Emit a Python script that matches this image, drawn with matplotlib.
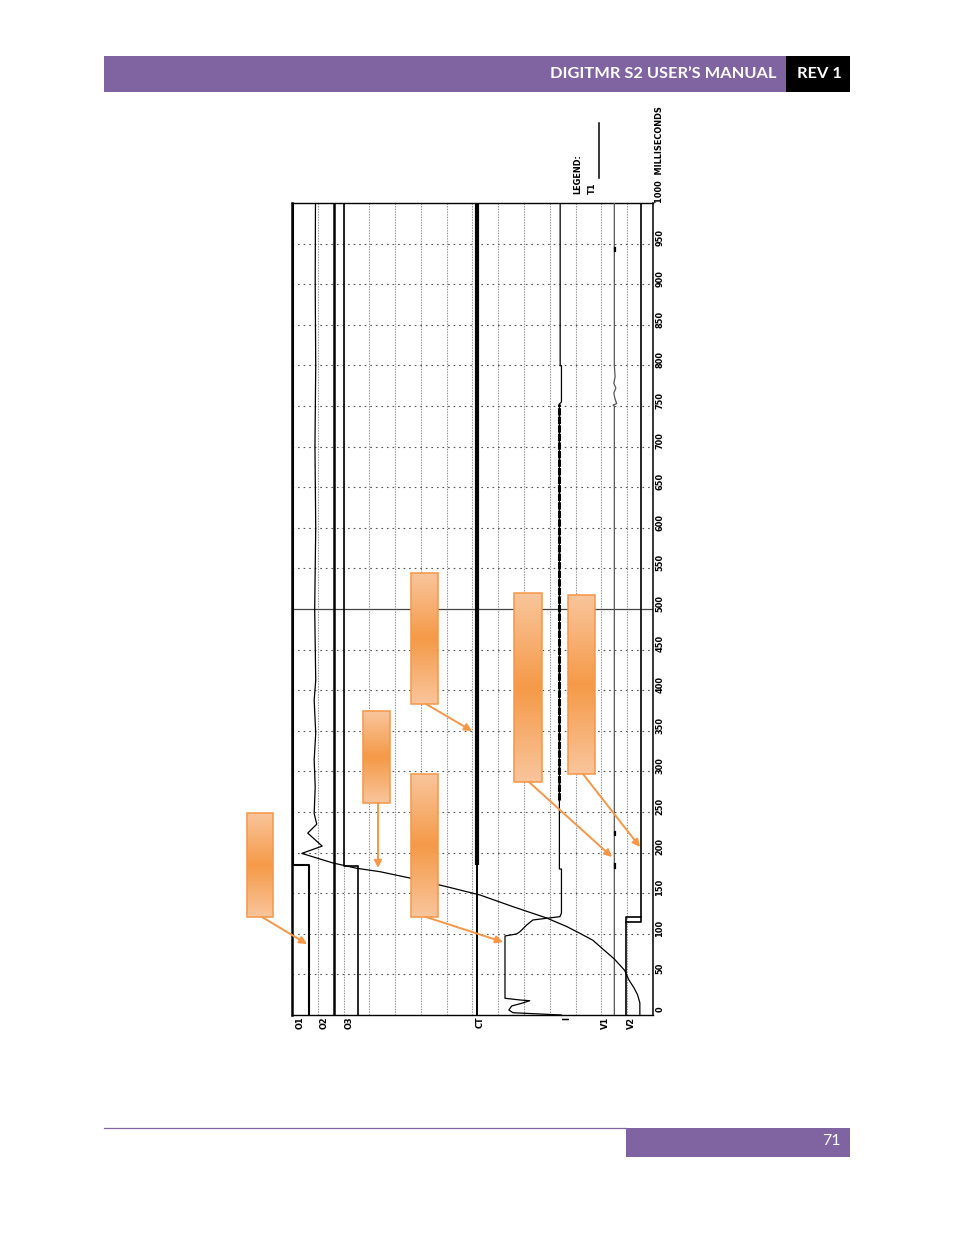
import numpy as np
import matplotlib
matplotlib.use("Agg")
import matplotlib.pyplot as plt
from matplotlib.colors import LinearSegmentedColormap
from matplotlib.patches import Rectangle
from matplotlib import font_manager as fm
import matplotlib.transforms as mtransforms

# ---------------- data ----------------
time_ticks = list(range(0, 1001, 50))
time_tick_labels = [str(t) for t in time_ticks]
time_axis_title = "MILLISECONDS"
grid_x = list(range(1, 14))
grid_t = [t for t in range(50, 1000, 50) if t != 500]
marker_t = 500

channel_names = ["O1", "O2", "O3", "CT", "I", "V1", "V2"]
channel_label_x = [0.31, 1.24, 2.21, 7.29, 10.66, 12.17, 13.18]

# contact channels (position in grid units vs time in ms)
o1_x = [0.66, 0.66, 0.04, 0.04]
o1_t = [0, 184.7, 184.7, 1000]
o2_x = [1.61, 1.61]
o2_t = [0, 1000]
o3_x = [2.56, 2.56, 2.03, 2.03]
o3_t = [0, 183.0, 183.0, 1000]

# close coil
ct_x = 7.19
ct_idle_t = [0, 184.7]
ct_energized_t = [184.7, 1000]

# current
i_x = [10.45, 8.57, 8.41, 8.52, 8.95, 9.22, 8.84, 8.26, 8.26, 8.71, 8.84, 9.10,
       9.34, 9.87, 10.39, 10.45, 10.45, 10.37, 10.37, 10.45, 10.45, 10.40, 10.40]
i_t = [0, 2.8, 6.2, 11.1, 14.8, 17.6, 18.5, 20.6, 97.3, 99.8, 102.6, 110.8,
       117.0, 119.1, 121.1, 125.6, 179.8, 179.8, 752.5, 755.0, 799.6, 799.6, 1000]
i_noise_t = [265, 752]

# voltages
v1_x = [12.50, 12.50, 12.45, 12.59, 12.52, 12.48, 12.56, 12.48, 12.53, 12.50, 12.50]
v1_t = [0, 750, 751, 753, 759.5, 766, 772, 778, 786, 800, 1000]
v1_mark_t = [183.5, 223.8, 943]
v2_x = [12.97, 12.97, 13.55, 13.55]
v2_t = [0, 121.0, 121.0, 1000]
v2_step_x = [12.97, 13.55, 13.55]
v2_step_t = [115.0, 115.0, 121.0]

# travel T1
t1_x = [13.49, 13.49, 13.40, 13.27, 13.05, 12.90, 12.50, 12.10, 11.67, 11.20, 10.65,
        9.87, 8.57, 7.29, 6.00, 4.57, 3.41, 2.51, 1.59, 0.38, 1.17, 0.61, 0.96,
        0.86, 0.90, 0.86, 0.92, 0.86, 0.92, 0.88, 0.92, 0.89, 0.92, 0.90, 0.91]
t1_t = [0, 15, 25, 33, 44, 55, 69, 80, 92, 100, 109,
        119.5, 133.4, 147.8, 158, 168.7, 176.5, 180.7, 187.2, 199, 208, 224, 235,
        248, 281, 314, 347, 388, 412, 500, 600, 700, 800, 900, 1000]

legend_label = "T1"

# ---------------- font choice for the plotter text ----------------
def plotter_font():
    fonts = fm.fontManager.ttflist
    for f in fonts:
        if f.name == "Liberation Sans Narrow" and "bold" in f.fname.lower() \
                and "italic" not in f.fname.lower():
            return fm.FontProperties(fname=f.fname), 7.4
    cands = []
    for f in fonts:
        st = str(f.stretch).lower()
        nm = f.fname.lower()
        if ("condensed" in st or "condensed" in nm or "narrow" in nm) and "cjk" not in nm \
                and "italic" not in nm and "oblique" not in nm:
            cands.append(f)
    for f in cands:
        nm = f.fname.lower()
        if "bold" in nm and "semibold" not in nm and "extrabold" not in nm:
            return fm.FontProperties(fname=f.fname), 6.6
    for f in cands:
        if "bold" not in f.fname.lower():
            return fm.FontProperties(fname=f.fname), 6.9
    return fm.FontProperties(family="DejaVu Sans"), 6.2

PFONT, PSIZE = plotter_font()

def ptext(axis, x, y, s, **kw):
    fp = PFONT.copy()
    fp.set_size(PSIZE)
    return axis.text(x, y, s, fontproperties=fp, **kw)

# ---------------- figure ----------------
W, H = 954, 1235
fig = plt.figure(figsize=(W / 100, H / 100), dpi=100)
fig.patch.set_facecolor("white")

PURPLE = "#8064A2"
ORANGE = "#F79646"

ax = fig.add_axes([292 / W, 1 - 1015 / H, 361 / W, 812 / H])
ax.set_xlim(0, 14)
ax.set_ylim(0, 1000)
ax.set_xticks([])
ax.set_yticks([])
for side, lw in [("left", 1.8), ("right", 1.1), ("top", 1.0), ("bottom", 1.0)]:
    ax.spines[side].set_linewidth(lw)
    ax.spines[side].set_color("black")

for gx in grid_x:
    ax.axvline(gx, color="#8a8a8a", lw=0.8, ls=(0, (1.2, 1.2)), zorder=1)
for gt in grid_t:
    ax.axhline(gt, color="#555555", lw=0.8, ls=(0, (1.5, 3.5)), zorder=1)
ax.axhline(marker_t, color="#444444", lw=0.9, zorder=2)

ax.plot(o1_x, o1_t, color="black", lw=1.5, zorder=3)
ax.plot(o2_x, o2_t, color="black", lw=1.8, zorder=3)
ax.plot(o3_x, o3_t, color="black", lw=1.2, zorder=3)
ax.plot([ct_x, ct_x], ct_idle_t, color="black", lw=1.4, zorder=3)
ax.plot([ct_x, ct_x], ct_energized_t, color="black", lw=3.0, solid_capstyle="butt", zorder=3)
ax.plot(i_x, i_t, color="black", lw=0.9, zorder=3)
ax.plot([i_x[-6], i_x[-6]], i_noise_t, color="black", lw=2.2,
        ls=(0, (2.4, 0.4)), zorder=3)
ax.plot(v1_x, v1_t, color="#555555", lw=0.9, zorder=3)
for mt in v1_mark_t:
    ax.plot([v1_x[0] + 0.04, v1_x[0] + 0.04], [mt - 2, mt + 2], color="black", lw=1.6, zorder=3)
ax.plot(v2_x, v2_t, color="black", lw=1.2, zorder=3)
ax.plot(v2_step_x, v2_step_t, color="black", lw=1.2, zorder=3)
ax.plot(t1_x, t1_t, color="black", lw=0.9, zorder=4)

# time labels (rotated)
tx = (660 - 292) / 361
trans = mtransforms.blended_transform_factory(ax.transAxes, ax.transData)
for t, lab in zip(time_ticks, time_tick_labels):
    if t == time_ticks[-1]:
        ptext(ax, tx, t, lab + "  " + time_axis_title, transform=trans, rotation=90,
              rotation_mode="anchor", ha="left", va="center", clip_on=False)
    else:
        ptext(ax, tx, t + 7, lab, transform=trans, rotation=90, rotation_mode="anchor",
              ha="center", va="center", clip_on=False)

# channel labels
for cx, name in zip(channel_label_x, channel_names):
    ptext(ax, cx, -2, name, rotation=90, rotation_mode="anchor", ha="right",
          va="center", clip_on=False)

# ---------------- page overlay (pixel coordinates) ----------------
ov = fig.add_axes([0, 0, 1, 1], zorder=10)
ov.set_xlim(0, W)
ov.set_ylim(H, 0)
ov.axis("off")
ov.patch.set_alpha(0)

# header
ov.add_patch(Rectangle((104, 56), 682, 36, facecolor=PURPLE, edgecolor="none"))
ov.add_patch(Rectangle((786, 56), 64, 36, facecolor="black", edgecolor="none"))
ov.text(777, 74.5, "DIGITMR S2 USER\u2019S MANUAL", color="white", fontsize=11.8,
        fontweight="bold", family=["Lato", "DejaVu Sans"], ha="right", va="center")
ov.text(819, 74.5, "REV 1", color="white", fontsize=11.8, fontweight="bold",
        family=["Lato", "DejaVu Sans"], ha="center", va="center")

# footer
ov.plot([104, 626], [1128, 1128], color=PURPLE, lw=0.9)
ov.add_patch(Rectangle((626, 1128), 224, 29, facecolor=PURPLE, edgecolor="none"))
ov.text(841, 1141, "71", color="white", fontsize=11.5, family=["Lato", "DejaVu Sans"],
        ha="right", va="center")

# legend
ptext(ov, 578, 194, "LEGEND:", rotation=90, rotation_mode="anchor", ha="left",
      va="center")
ptext(ov, 592.5, 194, legend_label, rotation=90, rotation_mode="anchor", ha="left",
      va="center")
ov.plot([598.7, 598.7], [123, 178], color="black", lw=1.1)

# callout boxes
grad_cmap = LinearSegmentedColormap.from_list("og", ["#F9C59C", "#F59A48"])
prof = np.linspace(0, 1, 200)
grad = (1 - np.abs(2 * prof - 1))[:, None]
boxes = [(247, 813, 273, 917), (363, 711, 390, 803), (411, 573, 438, 704),
         (411, 774, 438, 917), (514, 593, 542, 782), (568, 595, 595, 774)]
arrows = [((262, 917), (307, 944)), ((378, 803), (378, 868)), ((426, 704), (472, 731)),
          ((426, 917), (503, 942)), ((529, 782), (612, 857)), ((583, 774), (640, 847))]
for (x0, y0, x1, y1) in boxes:
    ov.imshow(grad, cmap=grad_cmap, extent=[x0, x1, y1, y0], aspect="auto",
              interpolation="bilinear", zorder=11)
    ov.add_patch(Rectangle((x0, y0), x1 - x0, y1 - y0, facecolor="none",
                           edgecolor=ORANGE, lw=1.1, zorder=12))
for (tail, head) in arrows:
    ov.annotate("", xy=head, xytext=tail,
                arrowprops=dict(arrowstyle="-|>", color=ORANGE, lw=1.4,
                                mutation_scale=11, shrinkA=0, shrinkB=0), zorder=12)
ov.set_xlim(0, W)
ov.set_ylim(H, 0)

fig.savefig("out.png", dpi=100)
